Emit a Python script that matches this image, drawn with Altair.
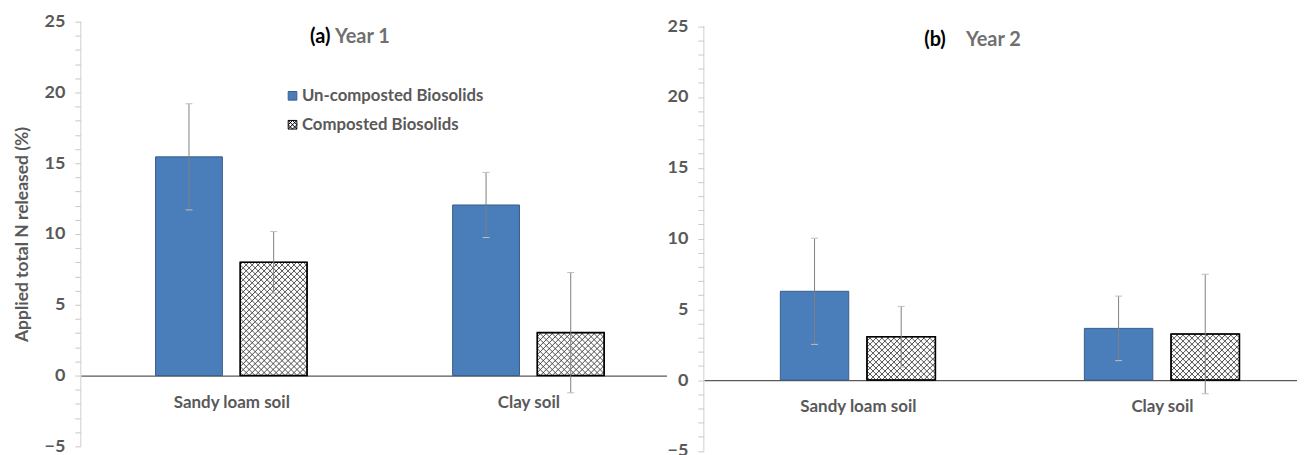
import altair as alt
import numpy as np
import pandas as pd

# ---------------- data ----------------
categories = ["Sandy loam soil", "Clay soil"]
series = ["Un-composted Biosolids", "Composted Biosolids"]

y1_uncomposted = [15.45, 12.05]
y1_uncomposted_err = [3.75, 2.30]
y1_composted = [8.00, 3.03]
y1_composted_err = [2.17, 4.25]

y2_uncomposted = [6.27, 3.65]
y2_uncomposted_err = [3.75, 2.28]
y2_composted = [3.06, 3.25]
y2_composted_err = [2.14, 4.22]

y_ticks = list(range(-5, 26))
panel_tags = ["(a)", "(b)"]
panel_names = ["Year 1", "Year 2"]
y_title = "Applied total N released (%)"

# ---------------- layout / style ----------------
FONT = "Lato"
GRAY = "#595959"
H = 426
Y_MIN, Y_MAX = -5, 25
PX_PER_Y = H / (Y_MAX - Y_MIN)
BAR_W = 0.225
GAP = 0.06
HATCH = 6.0
CAP_PX = 3.5
BLUE = "#4a7ebb"


def build_panel(vals_u, err_u, vals_c, err_c, width, px_per_x, shift_px, tag, name,
                tag_x, name_x, title_y, show_ytitle, show_legend, extra_top):
    sx = px_per_x
    x_start = -shift_px / sx
    xmax = x_start + width / sx
    rows = []
    for i, cat in enumerate(categories):
        center = i + 0.5
        for s_idx, (ser, v, e) in enumerate([(series[0], vals_u[i], err_u[i]),
                                             (series[1], vals_c[i], err_c[i])]):
            x0 = center - GAP / 2 - BAR_W if s_idx == 0 else center + GAP / 2
            xc = x0 + BAR_W / 2
            rows.append(dict(category=cat, series=ser, value=v, err=e, base=0.0,
                             x0=x0, x1=x0 + BAR_W, xc=xc, lo=v - e, hi=v + e,
                             c0=xc - CAP_PX / sx, c1=xc + CAP_PX / sx))
    bars = pd.DataFrame(rows)

    # cross-hatch lines clipped to each composted bar
    hatch = []
    for r in rows:
        if r["series"] != series[1]:
            continue
        W = BAR_W * sx
        Hh = r["value"] * PX_PER_Y
        k0 = int(np.floor(-Hh / HATCH)) - 1
        k1 = int(np.ceil(W / HATCH)) + 1
        for k in range(k0, k1 + 1):
            c = k * HATCH + HATCH / 2
            a = max(0.0, c)
            b = min(W, Hh + c)
            if b - a > 0.3:
                hatch.append(dict(x=r["x0"] + a / sx, y=(a - c) / PX_PER_Y,
                                  x2=r["x0"] + b / sx, y2=(b - c) / PX_PER_Y))
        k1 = int(np.ceil((W + Hh) / HATCH)) + 1
        for k in range(0, k1 + 1):
            c = k * HATCH + HATCH / 2
            a = max(0.0, c - Hh)
            b = min(W, c)
            if b - a > 0.3:
                hatch.append(dict(x=r["x0"] + a / sx, y=(c - a) / PX_PER_Y,
                                  x2=r["x0"] + b / sx, y2=(c - b) / PX_PER_Y))
    hatch = pd.DataFrame(hatch)

    label_expr = " : ".join(
        [f"datum.value < {i + 1} ? '{c}'" for i, c in enumerate(categories[:-1])]
        + [f"'{categories[-1]}'"])
    xaxis = alt.Axis(values=[i + 0.5 for i in range(len(categories))],
                     labelExpr=label_expr, ticks=False, grid=False, title=None,
                     offset=-(0 - Y_MIN) * PX_PER_Y,
                     domainColor=GRAY, domainWidth=1.3,
                     labelFont=FONT, labelFontSize=17, labelFontWeight="bold",
                     labelColor=GRAY, labelPadding=19, labelOverlap=False,
                     labelFlush=False)
    yaxis = alt.Axis(values=y_ticks,
                     labelExpr="datum.value % 5 === 0 ? datum.label : ''",
                     grid=False, domain=False,
                     title=y_title if show_ytitle else None,
                     tickColor="#c8c8c8", tickSize=6,
                     labelFont=FONT, labelFontSize=18, labelFontWeight="bold",
                     labelColor=GRAY, labelPadding=10, labelOverlap=False,
                     titleFont=FONT, titleFontSize=17.5, titleFontWeight="bold",
                     titleColor=GRAY, titlePadding=13)
    y_top = Y_MAX + extra_top / PX_PER_Y
    xs = alt.Scale(domain=[x_start, xmax], nice=False, zero=False)
    ys = alt.Scale(domain=[Y_MIN, y_top], nice=False, zero=False)

    def X(f):
        return alt.X(f, type="quantitative", scale=xs, axis=xaxis)

    def Y(f):
        return alt.Y(f, type="quantitative", scale=ys, axis=yaxis)

    if show_legend:
        leg = alt.Legend(title=None, orient="none", legendX=204, legendY=66,
                         labelFont=FONT, labelFontSize=16.8, labelFontWeight="bold",
                         labelColor=GRAY, labelLimit=400, symbolSize=75,
                         symbolStrokeWidth=1, rowPadding=11, labelOffset=1,
                         symbolOpacity=1)
    else:
        leg = None
    fill_scale = alt.Scale(domain=series, range=[BLUE, "#ffffff"])
    stroke_scale = alt.Scale(domain=series, range=["#385d8a", "#000000"])
    shape_scale = alt.Scale(domain=series, range=[
        "square",
        "M-1,-1H1V1H-1Z M-1,-1L1,1 M1,-1L-1,1 M-1,0L0,-1L1,0L0,1Z"])

    base = alt.Chart(bars)
    axis_line = alt.Chart(alt.Data(values=[{"lo": Y_MIN, "hi": Y_MAX}])).mark_rule(
        color="#d0d0d0", strokeWidth=1).encode(
        x=alt.value(0), y=Y("lo:Q"), y2="hi:Q")
    bar_layer = base.mark_bar(strokeWidth=1).encode(
        x=X("x0"), x2="x1", y=Y("value"), y2="base",
        fill=alt.Fill("series:N", scale=fill_scale, legend=leg),
        stroke=alt.Stroke("series:N", scale=stroke_scale, legend=leg),
    )
    hatch_layer = alt.Chart(hatch).mark_rule(color="#3a3a3a", strokeWidth=0.9).encode(
        x=X("x"), x2="x2", y=Y("y"), y2="y2")
    outline_layer = base.transform_filter(
        alt.datum.series == series[1]).mark_bar(
        fillOpacity=0, stroke="#000000", strokeWidth=1.6).encode(
        x=X("x0"), x2="x1", y=Y("value"), y2="base")
    err_layer = base.mark_rule(color="#7f7f7f", strokeWidth=1).encode(
        x=X("xc"), y=Y("lo"), y2="hi")
    cap_hi = base.mark_rule(color="#bfbfbf", strokeWidth=1).encode(
        x=X("c0"), x2="c1", y=Y("hi"))
    cap_lo = base.mark_rule(color="#bfbfbf", strokeWidth=1).encode(
        x=X("c0"), x2="c1", y=Y("lo"))
    layers = [axis_line, bar_layer, hatch_layer, outline_layer, err_layer,
              cap_hi, cap_lo]
    if show_legend:
        legend_layer = base.mark_point(opacity=0, filled=True).encode(
            x=X("xc"), y=Y("value"),
            fill=alt.Fill("series:N", scale=fill_scale, legend=leg),
            shape=alt.Shape("series:N", scale=shape_scale, legend=leg),
            stroke=alt.Stroke("series:N", scale=stroke_scale, legend=leg),
        )
        layers.append(legend_layer)
    tag_layer = alt.Chart(alt.Data(values=[{"t": tag}])).mark_text(
        align="left", baseline="middle", font=FONT, fontSize=20,
        fontWeight="bold", color="#000000").encode(
        x=alt.value(tag_x), y=alt.value(title_y), text="t:N")
    name_layer = alt.Chart(alt.Data(values=[{"t": name}])).mark_text(
        align="left", baseline="middle", font=FONT, fontSize=20,
        fontWeight="bold", color="#707070").encode(
        x=alt.value(name_x), y=alt.value(title_y), text="t:N")
    layers += [tag_layer, name_layer]
    return alt.layer(*layers).properties(width=width, height=H + extra_top)


left = build_panel(y1_uncomposted, y1_uncomposted_err, y1_composted,
                   y1_composted_err, 587.5, 298.0, 2.0,
                   panel_tags[0], panel_names[0], 230, 255, 15,
                   True, True, 0)
right = build_panel(y2_uncomposted, y2_uncomposted_err, y2_composted,
                    y2_composted_err, 595, 305.0, 2.0,
                    panel_tags[1], panel_names[1], 221, 263, 18,
                    False, False, 4.5)

chart = alt.hconcat(left, right, spacing=0).properties(
    padding={"left": 5, "top": 4, "right": 0, "bottom": 0},
    background="white",
).configure_view(stroke=None)

chart.save("out.html", embed_options={"renderer": "svg", "actions": False})
